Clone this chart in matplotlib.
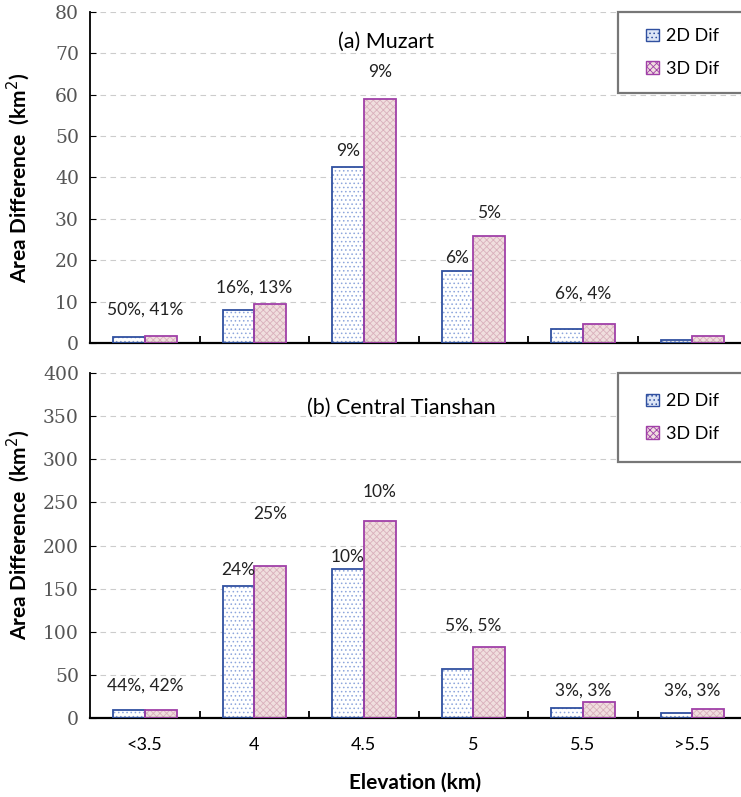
import matplotlib.pyplot as plt
from matplotlib.patches import Patch, Rectangle
import numpy as np

plt.rcParams["hatch.linewidth"] = 0.6

elev = ["<3.5", "4", "4.5", "5", "5.5", ">5.5"]

# Muzart
muz_2d = [1.5, 8.0, 42.5, 17.4, 3.5, 0.8]
muz_3d = [1.6, 9.4, 59.0, 25.8, 4.5, 1.8]
# Central Tianshan
ct_2d = [9.5, 153, 173, 57, 12, 6]
ct_3d = [9.5, 176, 228, 82, 19, 10]

# percentage labels: (group, text, which bar: "both"/"2d"/"3d", y value)
muz_lab = [(0, "50%, 41%", "both", 8), (1, "16%, 13%", "both", 13.5),
           (2, "9%", "2d", 46.5), (2, "9%", "3d", 65.5),
           (3, "6%", "2d", 20.5), (3, "5%", "3d", 31.5),
           (4, "6%, 4%", "both", 12)]
ct_lab = [(0, "44%, 42%", "both", 38), (1, "24%", "2d", 172), (1, "25%", "3d", 236),
          (2, "10%", "2d", 187), (2, "10%", "3d", 262),
          (3, "5%, 5%", "both", 107), (4, "3%, 3%", "both", 32), (5, "3%, 3%", "both", 32)]

font = "Lato"
blue_edge = "#3050a0"
pink_edge = "#a040a8"
x = np.arange(len(elev))
w = 0.29

fig = plt.figure(figsize=(7.41, 7.97), dpi=100)
ax1 = fig.add_axes([0.1215, 0.5696, 0.8785, 0.4154])
ax2 = fig.add_axes([0.1215, 0.0991, 0.8785, 0.4329])


def draw(ax, v2, v3, labels, ymax, step, title, tx, ty, box_bottom, ly):
    ax.bar(x - w / 2, v2, w, color="white", edgecolor="#8ea6dc", hatch="....", lw=0, zorder=2)
    ax.bar(x - w / 2, v2, w, fill=False, edgecolor=blue_edge, lw=1.3, zorder=3)
    ax.bar(x + w / 2, v3, w, color="#f0dede", edgecolor="#d9b0bc", hatch="xxxxx", lw=0, zorder=2)
    ax.bar(x + w / 2, v3, w, fill=False, edgecolor=pink_edge, lw=1.3, zorder=3)
    for g, t, kind, y in labels:
        xp = {"both": g, "2d": g - w / 2, "3d": g + w / 2}[kind]
        ax.text(xp, y, t, ha="center", va="center", fontsize=12.5,
                family=font, color="#222222")
    ax.set_xlim(-0.5, 5.445)
    ax.set_ylim(0, ymax)
    ax.set_yticks(np.arange(0, ymax + 1, step))
    ax.tick_params(axis="y", direction="in", length=4, labelsize=13.5,
                   labelcolor="#555555", pad=8)
    for lab in ax.get_yticklabels():
        lab.set_family("DejaVu Serif")
    ax.set_xticks(x)
    ax.set_xticks(np.arange(0.5, 5.5, 1), minor=True)
    ax.tick_params(axis="x", which="major", length=0, pad=14)
    ax.tick_params(axis="x", which="minor", direction="in", length=5, width=1.3)
    ax.grid(axis="y", ls=(0, (5, 4)), color="#cccccc", lw=0.8, zorder=0)
    ax.set_axisbelow(True)
    for s in ["top", "right"]:
        ax.spines[s].set_visible(False)
    ax.spines["left"].set_linewidth(1.3)
    ax.spines["bottom"].set_linewidth(1.6)
    ax.set_ylabel("Area Difference  (km$^2$)", fontsize=15, weight="bold",
                  family=font, va="center")
    ax.yaxis.set_label_coords(-0.11, ly)
    ax.text(tx, ty, title, transform=ax.transAxes,
            ha="center", va="center", fontsize=15.5, family=font)
    # legend box
    ax.add_patch(Rectangle((0.811, box_bottom), 0.2, 1.0 - box_bottom,
                           transform=ax.transAxes, fill=True, facecolor="white",
                           edgecolor="#777777", lw=1.6, clip_on=False, zorder=4))
    handles = [Patch(facecolor="#dde6f6", edgecolor=blue_edge, hatch="...."),
               Patch(facecolor="#f0dede", edgecolor=pink_edge, hatch="xxxxx")]
    leg = ax.legend(handles, ["2D Dif", "3D Dif"], loc="center",
                    bbox_to_anchor=(0.91, (1.0 + box_bottom) / 2),
                    frameon=False, prop={"family": font, "size": 13},
                    handlelength=0.7, handleheight=0.7, handletextpad=0.4,
                    labelspacing=0.9, borderpad=0)
    leg.set_zorder(5)


draw(ax1, muz_2d, muz_3d, muz_lab, 80, 10, "(a) Muzart", 0.455, 0.909, 0.755, 0.5)
draw(ax2, ct_2d, ct_3d, ct_lab, 400, 50, "(b) Central Tianshan", 0.478, 0.899, 0.742, 0.53)
ax1.set_xticklabels([])
ax2.set_xticklabels(elev, family=font, fontsize=13)
ax2.set_xlabel("Elevation (km)", fontsize=15, weight="bold", family=font, labelpad=14)

fig.savefig("out.png", dpi=100)
